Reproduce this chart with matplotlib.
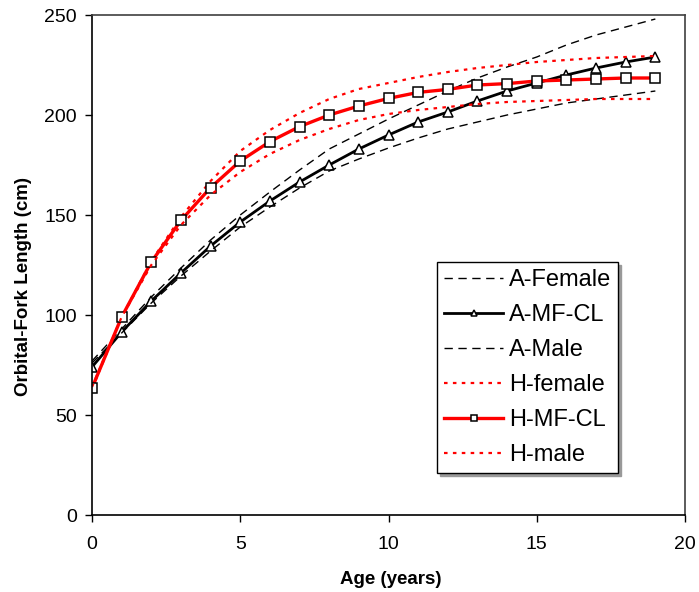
import matplotlib
matplotlib.use("Agg")
import matplotlib.pyplot as plt

plt.rcParams['font.family'] = ['Liberation Sans', 'DejaVu Sans']

ages = list(range(20))
a_female = [77, 93, 109, 123.5, 137.5, 150, 161.5, 172.5, 183, 190.5, 198, 205, 212, 218.5, 224, 229, 235, 240, 244, 248]
a_mf_cl = [74, 91.5, 107, 121, 134.5, 146.5, 157, 166.5, 175, 183, 190, 196.5, 201.5, 207, 212, 216, 220, 223.5, 226.5, 229]
a_male = [76, 91, 106, 119.5, 132, 144, 154, 163.5, 172, 178, 183.5, 188.5, 193, 196.5, 200, 203, 206, 208, 210, 212]
h_female = [63, 99, 127, 149, 167, 182, 192.5, 201, 208, 213, 216, 219, 221.5, 223.5, 225, 226.5, 227.5, 228.5, 229, 229.5]
h_mf_cl = [63.5, 99, 126.5, 147.3, 163.7, 177, 186.7, 194.2, 200, 204.5, 208.3, 211.3, 212.8, 215, 215.7, 217, 217.5, 218, 218.5, 218.5]
h_male = [64, 99, 125, 145, 160, 171.5, 180.5, 187.5, 193, 197.5, 200.5, 202.5, 204, 205.5, 206.5, 207, 207.5, 208, 208, 208]

fig = plt.figure(figsize=(6.99, 5.92), dpi=100)
ax = fig.add_axes([92/699, 77/592, 593/699, 500/592])

dash = (0, (6, 4))
dot = (0, (1.6, 2.4))
ax.plot(ages, a_female, color='black', lw=1.0, ls=dash, label='A-Female')
ax.plot(ages, a_mf_cl, color='black', lw=2.0, marker='^', ms=7, mfc='white', mec='black', mew=1.1, label='A-MF-CL')
ax.plot(ages, a_male, color='black', lw=1.0, ls=dash, label='A-Male')
ax.plot(ages, h_female, color='#ff0000', lw=1.6, ls=dot, label='H-female')
ax.plot(ages, h_mf_cl, color='#ff0000', lw=2.4, marker='s', ms=6.5, mfc='white', mec='black', mew=1.1, label='H-MF-CL')
ax.plot(ages, h_male, color='#ff0000', lw=1.6, ls=dot, label='H-male')

ax.set_xlim(0, 20)
ax.set_ylim(0, 250)
ax.set_xticks([0, 5, 10, 15, 20])
ax.set_yticks([0, 50, 100, 150, 200, 250])
ax.tick_params(axis='both', direction='out', length=5, width=1, labelsize=14)
ax.tick_params(axis='x', pad=10)
ax.tick_params(axis='y', pad=6)
for s in ['left', 'bottom']:
    ax.spines[s].set_color('black')
    ax.spines[s].set_linewidth(1.2)
for s in ['top', 'right']:
    ax.spines[s].set_color('#404040')
    ax.spines[s].set_linewidth(1.2)

ax.set_xlabel('Age (years)', fontsize=13.5, fontweight='bold')
ax.set_ylabel('Orbital-Fork Length (cm)', fontsize=13.5, fontweight='bold')
ax.xaxis.set_label_coords(0.503, -0.128)
ax.yaxis.set_label_coords(-0.115, 0.456)
ax.xaxis.label.set_va('center')
ax.yaxis.label.set_va('center')

leg = ax.legend(loc='upper left', bbox_to_anchor=(0.582, 0.506), borderaxespad=0,
                fontsize=17, frameon=True, fancybox=False, edgecolor='black',
                handlelength=2.5, handletextpad=0.25, labelspacing=0.55,
                markerscale=0.7, borderpad=0.3, shadow={'color': '0.6', 'alpha': 1})
leg.get_frame().set_linewidth(1.0)

fig.savefig('out.png', dpi=100)
